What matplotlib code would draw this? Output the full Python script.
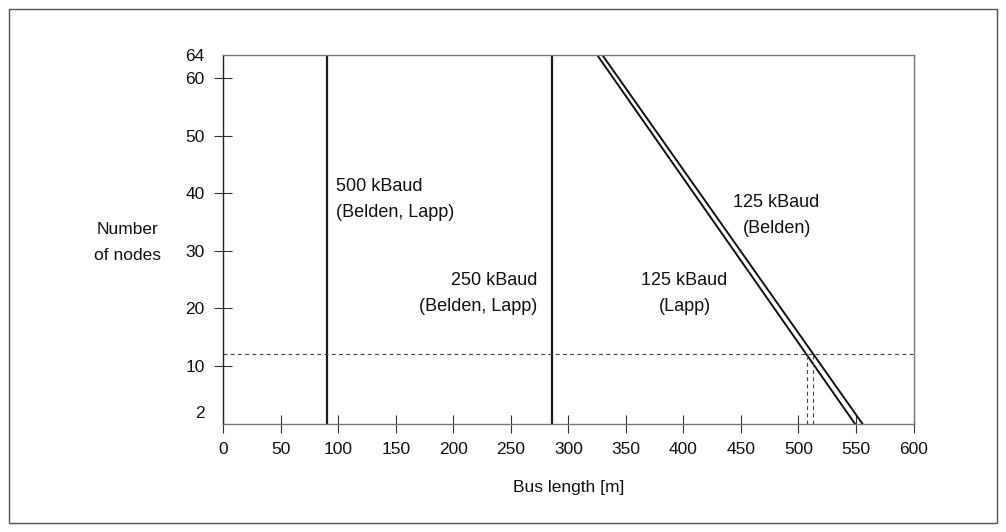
import matplotlib
matplotlib.use("Agg")
import matplotlib.pyplot as plt
from matplotlib.patches import Rectangle

plt.rcParams['font.family'] = ['Liberation Sans', 'DejaVu Sans']

# bus length limits (m) per baud rate
baud500_len = 90
baud250_len = 286
# 125 kBaud lines: bus length at 64 nodes and at 0 nodes
lapp_x = [325, 549]
lapp_y = [64, 0]
belden_x = [329.5, 555.5]
belden_y = [64, 0]
# reference number of nodes (dashed) and resulting lengths
ref_nodes = 12
ref_len = [507, 513]

xticks = list(range(0, 601, 50))
yticks = [2, 10, 20, 30, 40, 50, 60, 64]

fig = plt.figure(figsize=(10.06, 5.32), dpi=100)
ax = fig.add_axes([223.3 / 1006, 1 - 423.6 / 532, 690.2 / 1006, 368.6 / 532])

ax.axvline(baud500_len, color="#1a1a1a", lw=1.6)
ax.axvline(baud250_len, color="#1a1a1a", lw=1.6)
ax.plot(lapp_x, lapp_y, color="#111111", lw=1.4)
ax.plot(belden_x, belden_y, color="#111111", lw=1.4)

ax.axhline(ref_nodes, color="#444444", lw=0.8, dashes=(3.5, 3))
for xv in ref_len:
    ax.plot([xv, xv], [0, ref_nodes], color="#444444", lw=0.8, dashes=(3.5, 3))

ax.set_xlim(0, 600)
ax.set_ylim(0, 64)
ax.set_xticks(xticks)
ax.set_yticks(yticks)
ax.tick_params(direction="inout", length=13, width=0.8, labelsize=12.5,
               color="#333333", labelcolor="#111111", pad=7)
for t, v in zip(ax.yaxis.get_major_ticks(), yticks):
    if v in (2, 64):
        t.tick1line.set_visible(False)

ax.spines["left"].set_color("#222222")
for s in ["top", "right", "bottom"]:
    ax.spines[s].set_color("#777777")
for s in ax.spines.values():
    s.set_linewidth(1.0)

fs = 13
tc = "#111111"
ax.text(98, 41.1, "500 kBaud", fontsize=fs, ha="left", va="center", color=tc)
ax.text(98, 36.6, "(Belden, Lapp)", fontsize=fs, ha="left", va="center", color=tc)
ax.text(273, 24.9, "250 kBaud", fontsize=fs, ha="right", va="center", color=tc)
ax.text(273, 20.4, "(Belden, Lapp)", fontsize=fs, ha="right", va="center", color=tc)
ax.text(481, 38.4, "125 kBaud", fontsize=fs, ha="center", va="center", color=tc)
ax.text(481, 33.8, "(Belden)", fontsize=fs, ha="center", va="center", color=tc)
ax.text(401, 24.9, "125 kBaud", fontsize=fs, ha="center", va="center", color=tc)
ax.text(401, 20.4, "(Lapp)", fontsize=fs, ha="center", va="center", color=tc)

ax.set_xlabel("Bus length [m]", fontsize=12.5, labelpad=16, color=tc)
fig.text(127 / 1006, 1 - 229 / 532, "Number", fontsize=12.5, ha="center", va="center", color=tc)
fig.text(127 / 1006, 1 - 255 / 532, "of nodes", fontsize=12.5, ha="center", va="center", color=tc)

frame = Rectangle((9 / 1006, 9 / 532), 988 / 1006, 514 / 532, transform=fig.transFigure,
                  fill=False, edgecolor="#555555", lw=1.0)
fig.patches.append(frame)

fig.savefig("out.png", dpi=100)
